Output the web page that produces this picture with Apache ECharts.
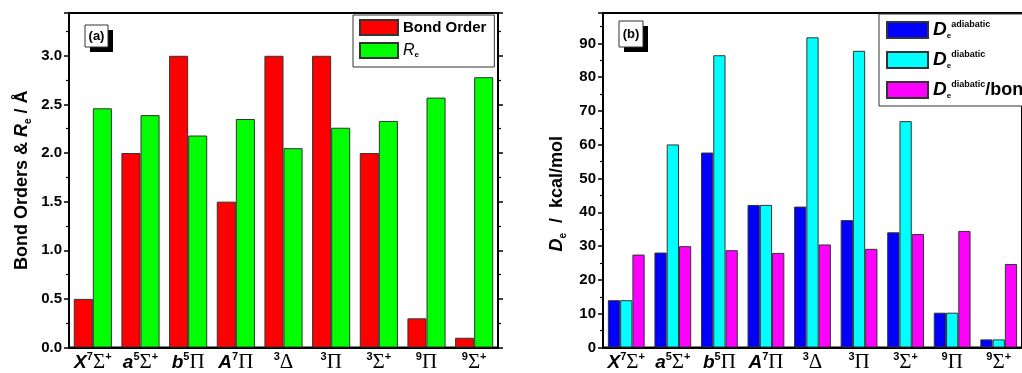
<!DOCTYPE html>
<html><head><meta charset="utf-8">
<script src="https://cdn.jsdelivr.net/npm/echarts@6/dist/echarts.min.js"></script>
<style>html,body{margin:0;padding:0;background:#fff}#c{width:1022px;height:373px}</style>
</head><body><div id="c"></div>
<script>
// ---- data ----
const categories = [
  '{it|X}{sup|7}{gr|Σ}{sup|+}',
  '{it|a}{sup|5}{gr|Σ}{sup|+}',
  '{it|b}{sup|5}{gr|Π}',
  '{it|A}{sup|7}{gr|Π}',
  '{sup|3}{gr|Δ}',
  '{sup|3}{gr|Π}',
  '{sup|3}{gr|Σ}{sup|+}',
  '{sup|9}{gr|Π}',
  '{sup|9}{gr|Σ}{sup|+}'
];
const bondOrder = [0.5, 2.0, 3.0, 1.5, 3.0, 3.0, 2.0, 0.3, 0.1];
const Re = [2.46, 2.39, 2.18, 2.35, 2.05, 2.26, 2.33, 2.57, 2.78];
const DeAdiabatic = [14.0, 28.1, 57.7, 42.2, 41.7, 37.7, 34.1, 10.3, 2.4];
const DeDiabatic = [14.0, 60.1, 86.5, 42.2, 91.8, 87.8, 67.0, 10.3, 2.4];
const DePerBond = [27.5, 30.0, 28.8, 28.0, 30.5, 29.2, 33.6, 34.5, 24.7];

const SANS = '"Liberation Sans", Arial, sans-serif';
const SERIF = '"Liberation Serif", "DejaVu Serif", serif';

const xRich = {
  it: {fontFamily: SANS, fontStyle: 'italic', fontWeight: 'bold', fontSize: 19, lineHeight: 22, color: '#000'},
  gr: {fontFamily: SERIF, fontSize: 21, lineHeight: 22, color: '#000'},
  sup: {fontFamily: SANS, fontWeight: 'bold', fontSize: 11, lineHeight: 11, verticalAlign: 'top', color: '#000'}
};

function xAxisFor(gi) {
  return {type: 'category', gridIndex: gi, data: categories,
    axisLine: {lineStyle: {color: '#000', width: 2}}, axisTick: {show: false},
    axisLabel: {interval: 0, hideOverlap: false, margin: 4, rich: xRich, formatter: v => v}};
}
function yAxisFor(gi, max, interval, pos, show, name, nameRich, nameGap) {
  return {type: 'value', gridIndex: gi, min: 0, max: max, interval: interval, position: pos,
    name: show ? name : '', nameLocation: 'middle', nameGap: nameGap, nameRotate: 90,
    nameTextStyle: {rich: nameRich},
    axisLine: {show: true, lineStyle: {color: '#000', width: 2}},
    axisTick: {show: true, inside: false, length: 5, lineStyle: {color: '#000', width: 1.5}},
    minorTick: {show: true, splitNumber: 2, length: 3, lineStyle: {color: '#000', width: 1.2}},
    splitLine: {show: false},
    axisLabel: {show: show, showMaxLabel: false, margin: 7, color: '#000', fontFamily: SANS, fontWeight: 'bold', fontSize: 15,
      formatter: v => (interval < 1 ? v.toFixed(1) : String(v))}};
}
const barStyle = c => ({color: c, borderColor: '#333', borderWidth: 1});

const option = {
  animation: false,
  backgroundColor: '#fff',
  grid: [
    {left: 69, width: 429, top: 13, bottom: 24, show: true, borderColor: '#000', borderWidth: 2},
    {left: 603, right: -13, top: 13, bottom: 23, show: true, borderColor: '#000', borderWidth: 2}
  ],
  xAxis: [xAxisFor(0), xAxisFor(1)],
  yAxis: [
    yAxisFor(0, 3.44, 0.5, 'left', true, '{b|Bond Orders & }{it|R}{sub|e}{b| / Å}', {
      b: {fontFamily: SANS, fontWeight: 'bold', fontSize: 18, lineHeight: 22, color: '#000'},
      it: {fontFamily: SANS, fontWeight: 'bold', fontStyle: 'italic', fontSize: 18, lineHeight: 22, color: '#000'},
      sub: {fontFamily: SANS, fontWeight: 'bold', fontSize: 10, lineHeight: 10, verticalAlign: 'bottom', color: '#000'}
    }, 36),
    yAxisFor(0, 3.44, 0.5, 'right', false, '', {}, 0),
    yAxisFor(1, 99, 10, 'left', true, '{it|D}{sub|e}{b|  /  kcal/mol}{pad|}', {
      b: {fontFamily: SANS, fontWeight: 'bold', fontSize: 18, lineHeight: 22, color: '#000'},
      it: {fontFamily: SANS, fontWeight: 'bold', fontStyle: 'italic', fontSize: 18, lineHeight: 22, color: '#000'},
      sub: {fontFamily: SANS, fontWeight: 'bold', fontSize: 10, lineHeight: 10, verticalAlign: 'bottom', color: '#000'},
      pad: {width: 27, lineHeight: 22}
    }, 35)
  ],
  legend: [
    {orient: 'vertical', left: 353, top: 15, itemWidth: 38, itemHeight: 15, itemGap: 6,
      padding: [4, 8, 8, 6], borderColor: '#333', borderWidth: 1, backgroundColor: '#fff',
      icon: 'rect', data: ['Bond Order', 'Re'],
      formatter: n => n === 'Re' ? '{it|R}{sub|e}' : '{b|Bond Order}',
      textStyle: {rich: {
        b: {fontFamily: SANS, fontWeight: 'bold', fontSize: 15, color: '#000'},
        it: {fontFamily: SANS, fontStyle: 'italic', fontSize: 16, lineHeight: 16, color: '#000'},
        sub: {fontFamily: SANS, fontWeight: 'bold', fontSize: 8, lineHeight: 8, verticalAlign: 'bottom', color: '#000'}
      }}},
    {orient: 'vertical', left: 879, top: 14, itemWidth: 41, itemHeight: 16, itemGap: 10,
      padding: [6, 10, 6, 7], borderColor: '#333', borderWidth: 1, backgroundColor: '#fff',
      icon: 'rect', data: ['Dad', 'Ddi', 'Dbo'],
      formatter: n => n === 'Dad' ? '{D|D}{sub|e}{sup|adiabatic}' : n === 'Ddi' ? '{D|D}{sub|e}{sup|diabatic}' : '{D|D}{sub|e}{sup|diabatic}{b|/bond order}',
      textStyle: {rich: {
        D: {fontFamily: SANS, fontStyle: 'italic', fontWeight: 'bold', fontSize: 19, lineHeight: 20, color: '#000'},
        b: {fontFamily: SANS, fontWeight: 'bold', fontSize: 18, lineHeight: 20, color: '#000'},
        sub: {fontFamily: SANS, fontWeight: 'bold', fontSize: 8, lineHeight: 8, verticalAlign: 'bottom', color: '#000'},
        sup: {fontFamily: SANS, fontWeight: 'bold', fontSize: 9, lineHeight: 9, verticalAlign: 'top', color: '#000'}
      }}}
  ],
  series: [
    {name: 'Bond Order', type: 'bar', xAxisIndex: 0, yAxisIndex: 0, data: bondOrder, itemStyle: barStyle('#ff0000'), barGap: '0%', barCategoryGap: '20%'},
    {name: 'Re', type: 'bar', xAxisIndex: 0, yAxisIndex: 0, data: Re, itemStyle: barStyle('#00ff00'), barGap: '0%', barCategoryGap: '20%'},
    {name: 'Dad', type: 'bar', xAxisIndex: 1, yAxisIndex: 2, data: DeAdiabatic, itemStyle: barStyle('#0000ff'), barGap: '0%', barCategoryGap: '21%'},
    {name: 'Ddi', type: 'bar', xAxisIndex: 1, yAxisIndex: 2, data: DeDiabatic, itemStyle: barStyle('#00ffff'), barGap: '0%', barCategoryGap: '21%'},
    {name: 'Dbo', type: 'bar', xAxisIndex: 1, yAxisIndex: 2, data: DePerBond, itemStyle: barStyle('#ff00ff'), barGap: '0%', barCategoryGap: '21%'}
  ],
  graphic: [
    {type: 'rect', shape: {x: 90, y: 30, width: 23, height: 22}, style: {fill: '#000'}},
    {type: 'rect', shape: {x: 85, y: 25, width: 23, height: 22}, style: {fill: '#fff', stroke: '#333', lineWidth: 1}},
    {type: 'text', x: 96.5, y: 36, style: {text: '(a)', fill: '#000', font: 'bold 13px ' + SANS, align: 'center', verticalAlign: 'middle'}},
    {type: 'rect', shape: {x: 624, y: 26, width: 24, height: 26}, style: {fill: '#000'}},
    {type: 'rect', shape: {x: 619, y: 21, width: 24, height: 26}, style: {fill: '#fff', stroke: '#333', lineWidth: 1}},
    {type: 'text', x: 631, y: 34, style: {text: '(b)', fill: '#000', font: 'bold 13px ' + SANS, align: 'center', verticalAlign: 'middle'}}
  ]
};
const chart = echarts.init(document.getElementById('c'), null, {renderer: 'canvas'});
chart.setOption(option);
</script></body></html>
